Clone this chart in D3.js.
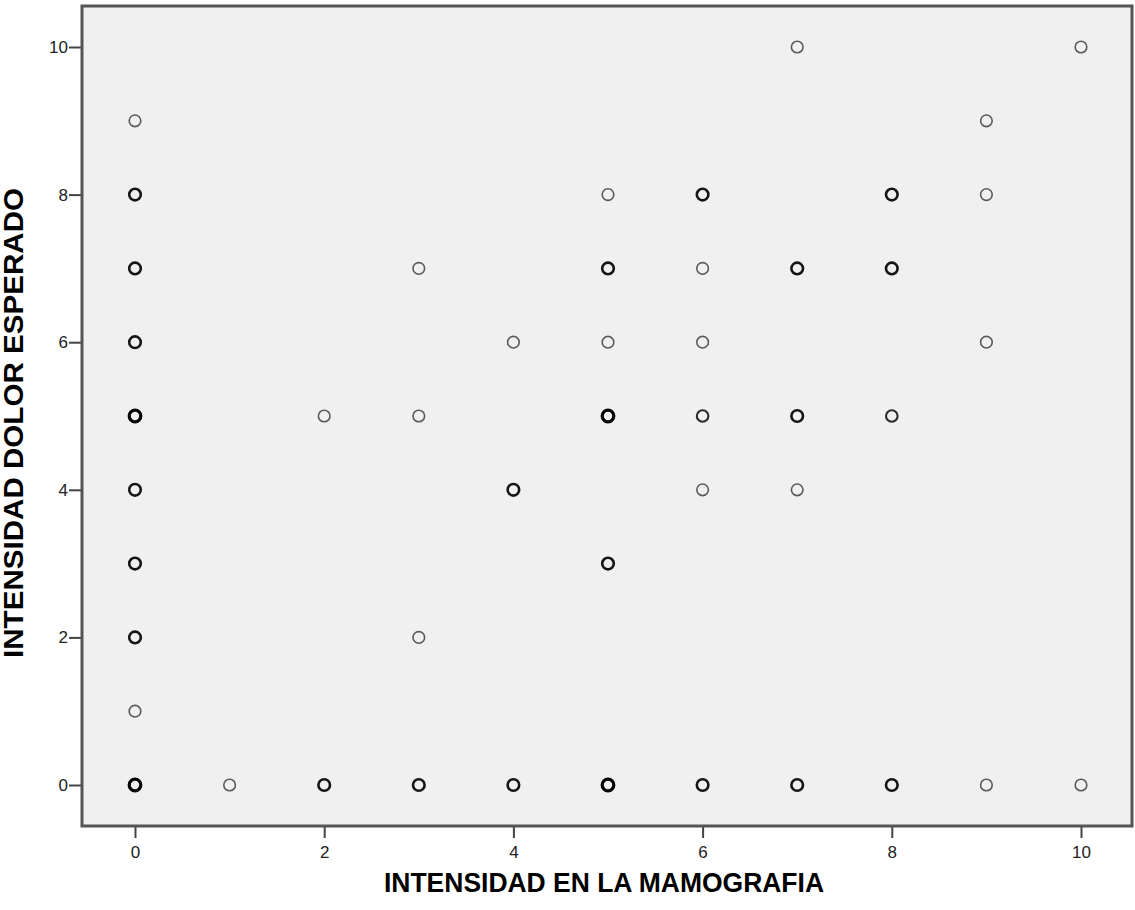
<!DOCTYPE html>
<html lang="es">
  <head>
    <meta charset="utf-8">
    <title>Intensidad dolor esperado vs mamografia</title>
    <script src="https://d3js.org/d3.v7.min.js"></script>
    <style>
      body { margin: 0; background: #fff; }
      .title { font-family: Arial, "Liberation Sans", sans-serif; font-weight: bold; font-size: 27px; fill: #000; }
    </style>
  </head>
  <body>
    <script type="text/javascript">
    // Valores (x = mamografia, y = dolor esperado, n = casos aprox.)
    var mamografia = [0,0,0,0,0,0,0,0,0,0,
                      1,
                      2,2,
                      3,3,3,3,
                      4,4,4,
                      5,5,5,5,5,5,
                      6,6,6,6,6,6,
                      7,7,7,7,7,
                      8,8,8,8,
                      9,9,9,9,
                      10,10];
    var dolor      = [9,8,7,6,5,4,3,2,1,0,
                      0,
                      5,0,
                      7,5,2,0,
                      6,4,0,
                      8,7,6,5,3,0,
                      8,7,6,5,4,0,
                      10,7,5,4,0,
                      8,7,5,0,
                      9,8,6,0,
                      10,0];
    var casos      = [1,4,4,4,5,4,4,3,1,20,
                      1,
                      1,3,
                      1,1,1,3,
                      1,3,3,
                      1,3,1,5,3,6,
                      3,1,1,2,1,3,
                      1,3,3,1,3,
                      3,3,2,3,
                      1,1,1,1,
                      1,1];
    var ticks = [0, 2, 4, 6, 8, 10];

    var w = 1135;
    var h = 910;
    // limites del area de grafico ("top" esta reservado en window)
    var pLeft = 82, pRight = 1132, pTop = 6, pBottom = 826;

    var svg = d3.select("body")
                .append("svg")
                .attr("width", w)
                .attr("height", h);

    // Escalas
    var xScale = d3.scaleLinear()
                   .domain([0, 10])
                   .range([135, 1081]);
    var yScale = d3.scaleLinear()
                   .domain([0, 10])
                   .range([785, 47]);

    // grosor / color segun cantidad de casos superpuestos
    var strokeW = d3.scaleThreshold().domain([2, 3, 5]).range([1.6, 2.1, 2.6, 3.2]);
    var strokeC = d3.scaleThreshold().domain([2, 3, 5]).range(["#5a5a5a", "#2a2a2a", "#151515", "#000"]);

    // Fondo del area de grafico
    svg.append("rect")
       .attr("x", pLeft)
       .attr("y", pTop)
       .attr("width", pRight - pLeft)
       .attr("height", pBottom - pTop)
       .attr("fill", "#f0f0f0");

    // Ejes
    var xAxis = d3.axisBottom(xScale).tickValues(ticks).tickSize(12).tickPadding(8);
    var yAxis = d3.axisLeft(yScale).tickValues(ticks).tickSize(13).tickPadding(1);

    var gx = svg.append("g")
       .attr("transform", "translate(0," + pBottom + ")")
       .attr("font-size", 17)
       .attr("font-family", "Arial, 'Liberation Sans', sans-serif")
       .call(xAxis);
    gx.attr("font-size", 17).attr("font-family", "Arial, 'Liberation Sans', sans-serif");
    gx.select(".domain").remove();
    gx.selectAll("line").attr("stroke", "#444").attr("stroke-width", 2);
    gx.selectAll("text").attr("fill", "#222");

    var gy = svg.append("g")
       .attr("transform", "translate(" + pLeft + ",0)")
       .call(yAxis);
    gy.attr("font-size", 17).attr("font-family", "Arial, 'Liberation Sans', sans-serif");
    gy.select(".domain").remove();
    gy.selectAll("line").attr("stroke", "#444").attr("stroke-width", 2);
    gy.selectAll("text").attr("fill", "#222");

    // Marco
    svg.append("rect")
       .attr("x", pLeft)
       .attr("y", pTop)
       .attr("width", pRight - pLeft)
       .attr("height", pBottom - pTop)
       .attr("fill", "none")
       .attr("stroke", "#555")
       .attr("stroke-width", 3);

    // Puntos
    var idx = d3.range(mamografia.length);
    svg.selectAll("circle.pt")
       .data(idx)
       .enter()
       .append("circle")
       .attr("class", "pt")
       .attr("cx", function(i) { return xScale(mamografia[i]); })
       .attr("cy", function(i) { return yScale(dolor[i]); })
       .attr("r", 5.8)
       .attr("fill", "none")
       .attr("stroke", function(i) { return strokeC(casos[i]); })
       .attr("stroke-width", function(i) { return strokeW(casos[i]); });

    // Titulos
    svg.append("text")
       .attr("class", "title")
       .attr("x", 604)
       .attr("y", 892)
       .attr("text-anchor", "middle")
       .attr("textLength", 440)
       .attr("lengthAdjust", "spacingAndGlyphs")
       .text("INTENSIDAD EN LA MAMOGRAFIA");

    svg.append("text")
       .attr("class", "title")
       .attr("transform", "translate(23,423) rotate(-90)")
       .attr("text-anchor", "middle")
       .attr("textLength", 470)
       .attr("lengthAdjust", "spacingAndGlyphs")
       .text("INTENSIDAD DOLOR ESPERADO");
    </script>
  </body>
</html>
